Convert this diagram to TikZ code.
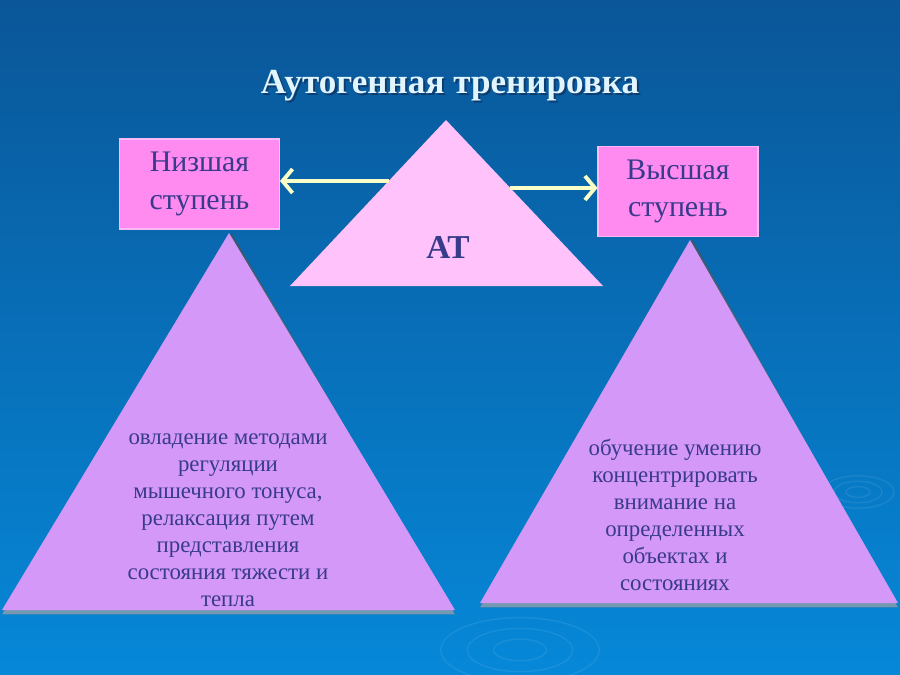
\documentclass[tikz,border=0pt]{standalone}
\usepackage{fontspec}
\setmainfont{Liberation Serif}
\usetikzlibrary{arrows.meta, positioning}
\definecolor{bgtop}{RGB}{10,86,152}
\definecolor{bgbot}{RGB}{6,136,216}
\definecolor{boxpink}{RGB}{255,138,240}
\definecolor{toppink}{RGB}{255,194,250}
\definecolor{lilac}{RGB}{212,152,248}
\definecolor{inktext}{RGB}{56,58,138}
\definecolor{arrowyel}{RGB}{250,255,200}
\definecolor{shade}{RGB}{14,60,110}

\begin{document}
\begin{tikzpicture}[x=0.02cm, y=-0.02cm,
        stepbox/.style={rectangle, draw=boxpink!60!white, line width=0.6pt, fill=boxpink, minimum width=3.2cm, minimum height=1.8cm, align=center, text=inktext, font=\fontsize{17}{21.5}\selectfont},
        tritext/.style={align=center, text=inktext, font=\fontsize{13}{15.4}\selectfont},
        arr/.style={-{Straight Barb[length=2mm, width=4.8mm]}, line width=2.2pt, arrowyel},
        ripple/.style={draw=white, opacity=0.08, line width=0.8pt}
        ]
        \useasboundingbox (0,0) rectangle (900,674);
        \shade[top color=bgtop, bottom color=bgbot] (0,0) rectangle (900,674);
        \foreach \r in {12,24,36} {
            \draw[ripple] (858,492) ellipse ({\r} and {\r*0.45});
            \draw[ripple] (520,650) ellipse ({\r*2.2} and {\r*0.9});
        }

        \node[font=\bfseries\fontsize{20}{24}\selectfont, text=shade] (titleshade) at (452,88) {Аутогенная тренировка};
        \node[font=\bfseries\fontsize{20}{24}\selectfont, text=white!88!cyan] (title) at (450,86) {Аутогенная тренировка};

        \coordinate (atA) at (446,120);
        \coordinate (atL) at (290,286);
        \coordinate (atR) at (603,286);
        \fill[toppink] (atL) -- (atA) -- (atR) -- cycle;
        \node[font=\bfseries\fontsize{19}{22}\selectfont, text=inktext] (at) at (448,247) {АТ};

        \node[stepbox] (low)  at (199.5,184) {Низшая\\ступень};
        \node[stepbox] (high) at (678,191.5) {Высшая\\ступень};

        \coordinate (lowA) at (229,233);
        \coordinate (lowL) at (2,610);
        \coordinate (lowR) at (455,610);
        \fill[shade, opacity=0.45] ([yshift=-2.5]lowL) -- ([yshift=-2.5]lowR) -- ([xshift=1.5]lowA) -- cycle;
        \fill[lilac] (lowL) -- (lowA) -- (lowR) -- cycle;
        \node[tritext] (lowtext) at (228,520) {овладение методами\\регуляции\\мышечного тонуса,\\релаксация путем\\представления\\состояния тяжести и\\тепла};

        \coordinate (highA) at (690,240);
        \coordinate (highL) at (480,603);
        \coordinate (highR) at (898,603);
        \fill[shade, opacity=0.45] ([yshift=-2.5]highL) -- ([yshift=-2.5]highR) -- ([xshift=1.5]highA) -- cycle;
        \fill[lilac] (highL) -- (highA) -- (highR) -- cycle;
        \node[tritext] (hightext) at (675,515) {обучение умению\\концентрировать\\внимание на\\определенных\\объектах и\\состояниях};

        \coordinate (atW) at (389,181);
        \coordinate (atE) at (510,188);
        \draw[arr] (atW) -- (atW -| low.east);
        \draw[arr] (atE) -- (atE -| high.west);
    \end{tikzpicture}
\end{document}
